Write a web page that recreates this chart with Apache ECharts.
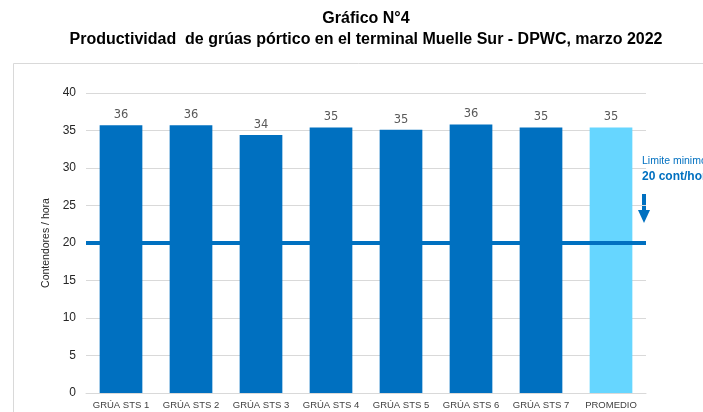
<!DOCTYPE html>
<html><head><meta charset="utf-8">
<script src="https://cdn.jsdelivr.net/npm/echarts@6/dist/echarts.min.js"></script>
<style>html,body{margin:0;padding:0;background:#fff}#c{width:703px;height:412px}</style>
</head><body><div id="c"></div>
<script>
const categories = ['GRÚA STS 1','GRÚA STS 2','GRÚA STS 3','GRÚA STS 4','GRÚA STS 5','GRÚA STS 6','GRÚA STS 7','PROMEDIO'];
const values = [35.7, 35.7, 34.4, 35.4, 35.1, 35.8, 35.4, 35.4];
const barColors = ['#0070C0','#0070C0','#0070C0','#0070C0','#0070C0','#0070C0','#0070C0','#66D6FF'];
const limitValue = 20;
const yTicks = {min: 0, max: 40, interval: 5};

const chart = echarts.init(document.getElementById('c'), null, {renderer: 'canvas'});
chart.setOption({
  animation: false,
  backgroundColor: '#fff',
  title: [{
    text: 'Gráfico N°4',
    left: 361, top: 6, textAlign: 'center',
    textStyle: {fontFamily: 'Liberation Sans, Arial', fontSize: 16, fontWeight: 'bold', color: '#000'}
  },{
    text: 'Productividad  de grúas pórtico en el terminal Muelle Sur - DPWC, marzo 2022',
    left: 361, top: 27, textAlign: 'center',
    textStyle: {fontFamily: 'Liberation Sans, Arial', fontSize: 16, fontWeight: 'bold', color: '#000'}
  }],
  grid: {left: 86, right: 57, top: 93, bottom: 19, containLabel: false},
  xAxis: {
    type: 'category', data: categories,
    axisLine: {lineStyle: {color: '#D9D9D9', width: 1}},
    axisTick: {show: false},
    axisLabel: {color: '#404040', fontSize: 9.5, fontFamily: 'Liberation Sans, Arial', margin: 7, interval: 0}
  },
  yAxis: {
    type: 'value', min: yTicks.min, max: yTicks.max, interval: yTicks.interval,
    name: 'Contendores / hora', nameLocation: 'middle', nameGap: 29, nameRotate: 90,
    nameTextStyle: {color: '#262626', fontSize: 10.5, fontFamily: 'Liberation Sans, Arial'},
    axisLine: {show: false}, axisTick: {show: false},
    axisLabel: {color: '#262626', fontSize: 12, fontFamily: 'Liberation Sans, Arial', margin: 10},
    splitLine: {lineStyle: {color: '#D9D9D9', width: 1}}
  },
  series: [{
    type: 'bar', barWidth: '61%',
    data: values.map((v, i) => ({value: v, itemStyle: {color: barColors[i]}})),
    label: {show: true, position: 'top', distance: 4, color: '#595959', fontSize: 11.5,
      fontFamily: 'DejaVu Sans, Liberation Sans', formatter: p => Math.round(p.value)},
    markLine: {
      silent: true, symbol: ['none','none'], label: {show: false},
      lineStyle: {color: '#0070C0', width: 4, type: 'solid'},
      data: [{yAxis: limitValue}]
    }
  }],
  graphic: [
    {type: 'rect', shape: {x: 13.5, y: 63.5, width: 720, height: 400},
     style: {fill: 'none', stroke: '#D9D9D9', lineWidth: 1}, z: -1},
    {type: 'text', left: 642, top: 156, style: {text: 'Limite minimo', fill: '#0070C0',
      font: '10.5px Liberation Sans, Arial'}},
    {type: 'text', left: 642, top: 171, style: {text: '20 cont/hora', fill: '#0070C0',
      font: 'bold 12px Liberation Sans, Arial'}},
    {type: 'rect', shape: {x: 642, y: 194, width: 4, height: 18}, style: {fill: '#0070C0'}},
    {type: 'polygon', shape: {points: [[638, 210], [650, 210], [644, 223]]}, style: {fill: '#0070C0'}}
  ]
});
</script></body></html>
